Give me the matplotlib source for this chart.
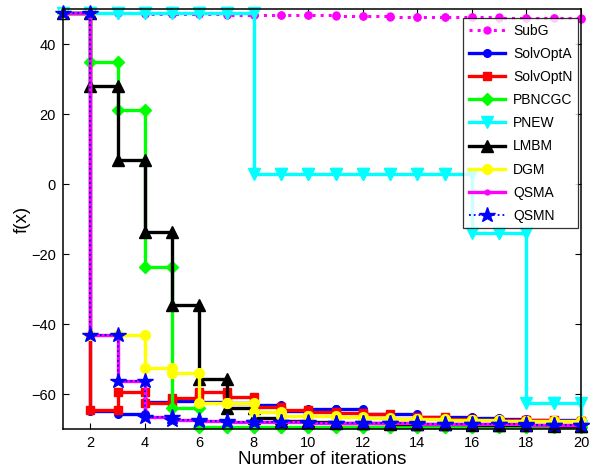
import numpy as np
import matplotlib
matplotlib.use("Agg")
import matplotlib.pyplot as plt

plt.rcParams['font.family'] = ['Liberation Sans', 'DejaVu Sans']

iterations = list(range(1, 21))

SubG = [48.9, 48.9, 48.8, 48.7, 48.6, 48.5, 48.4, 48.4, 48.3, 48.3,
        48.1, 48.0, 47.8, 47.8, 47.6, 47.6, 47.5, 47.5, 47.5, 47.1]
SolvOptA = [48.9, -64.8, -65.8, -62.2, -62.0, -62.2, -62.5, -63.1, -64.9, -64.2,
            -64.2, -65.6, -65.8, -66.5, -66.6, -66.9, -67.1, -67.3, -67.4, -67.6]
SolvOptN = [48.9, -64.6, -59.3, -62.5, -61.2, -59.3, -60.8, -63.6, -64.6, -65.0,
            -65.5, -65.8, -67.2, -66.5, -67.2, -67.3, -67.4, -67.5, -67.6, -67.7]
PBNCGC = [48.9, 34.9, 21.1, -23.6, -64.1, -69.3, -69.4, -69.4, -69.4, -69.5,
          -69.5, -69.5, -69.5, -69.5, -69.5, -69.5, -69.5, -69.5, -69.5, -69.5]
PNEW = [48.9, 48.9, 48.9, 48.9, 48.9, 48.9, 48.9, 2.8, 2.8, 2.8,
        2.8, 2.8, 2.8, 2.8, 2.8, -14.1, -14.1, -62.7, -62.7, -69.0]
LMBM = [48.9, 28.0, 6.9, -13.6, -34.6, -55.7, -64.1, -66.9, -67.6, -68.0,
        -68.2, -68.4, -68.5, -68.6, -68.7, -68.8, -68.9, -68.9, -69.0, -69.0]
DGM = [48.9, -43.1, -43.1, -52.7, -54.0, -62.7, -62.7, -65.0, -66.3, -66.4,
       -66.6, -66.8, -67.1, -67.2, -67.4, -67.5, -67.6, -67.7, -67.8, -67.9]
QSMA = [48.9, -43.1, -56.3, -66.5, -67.4, -67.8, -67.9, -68.0, -68.1, -68.2,
        -68.3, -68.4, -68.4, -68.5, -68.6, -68.7, -68.7, -68.8, -68.8, -68.9]
QSMN = [48.9, -43.1, -56.3, -66.5, -67.4, -67.8, -67.9, -68.0, -68.1, -68.2,
        -68.3, -68.4, -68.4, -68.5, -68.6, -68.7, -68.7, -68.8, -68.8, -68.9]

xticks = [2, 4, 6, 8, 10, 12, 14, 16, 18, 20]
yticks = [-60, -40, -20, 0, 20, 40]


def stair_vertices(x, y):
    x = np.asarray(x, float)
    y = np.asarray(y, float)
    xs = np.repeat(x, 2)[1:]
    ys = np.repeat(y, 2)[:-1]
    return xs, ys


styles = [
    ("SubG", SubG, dict(color='#FF00FF', ls=':', lw=2.2, marker='.', ms=10)),
    ("SolvOptA", SolvOptA, dict(color='#0000FF', ls='-', lw=2.4, marker='.', ms=11)),
    ("SolvOptN", SolvOptN, dict(color='#FF0000', ls='-', lw=2.4, marker='s', ms=6)),
    ("PBNCGC", PBNCGC, dict(color='#00FF00', ls='-', lw=2.4, marker='D', ms=6.5)),
    ("PNEW", PNEW, dict(color='#00FFFF', ls='-', lw=2.4, marker='v', ms=8)),
    ("LMBM", LMBM, dict(color='#000000', ls='-', lw=2.4, marker='^', ms=8)),
    ("DGM", DGM, dict(color='#FFFF00', ls='-', lw=2.4, marker='o', ms=7)),
    ("QSMA", QSMA, dict(color='#FF00FF', ls='-', lw=2.4, marker='.', ms=7)),
    ("QSMN", QSMN, dict(color='#0000FF', ls=':', lw=1.3, marker='*', ms=11.5)),
]

fig = plt.figure(figsize=(5.93, 4.71), dpi=100)
ax = fig.add_axes([63/593, 42/471, 518/593, 420/471])

for name, vals, st in styles:
    xs, ys = stair_vertices(iterations, vals)
    ax.plot(xs, ys, label=name, markeredgecolor=st['color'],
            markerfacecolor=st['color'], clip_on=False, **st)

ax.set_xlim(1, 20)
ax.set_ylim(-70, 50)
ax.set_xticks(xticks)
ax.set_yticks(yticks)
ax.tick_params(direction='in', top=True, right=True, length=4, width=0.8,
               labelsize=10.5, pad=5)
for sp in ax.spines.values():
    sp.set_linewidth(1.1)

ax.set_xlabel("Number of iterations", fontsize=13.5, labelpad=1)
ax.set_ylabel("f(x)", fontsize=13.5, labelpad=0)

leg = ax.legend(loc='upper right', bbox_to_anchor=(0.9942, 0.9786),
                borderaxespad=0, fontsize=10, frameon=True, fancybox=False,
                edgecolor='black', handlelength=2.6, labelspacing=0.66,
                borderpad=0.4, handletextpad=0.6)
leg.get_frame().set_linewidth(0.9)

fig.savefig("out.png", dpi=100)
